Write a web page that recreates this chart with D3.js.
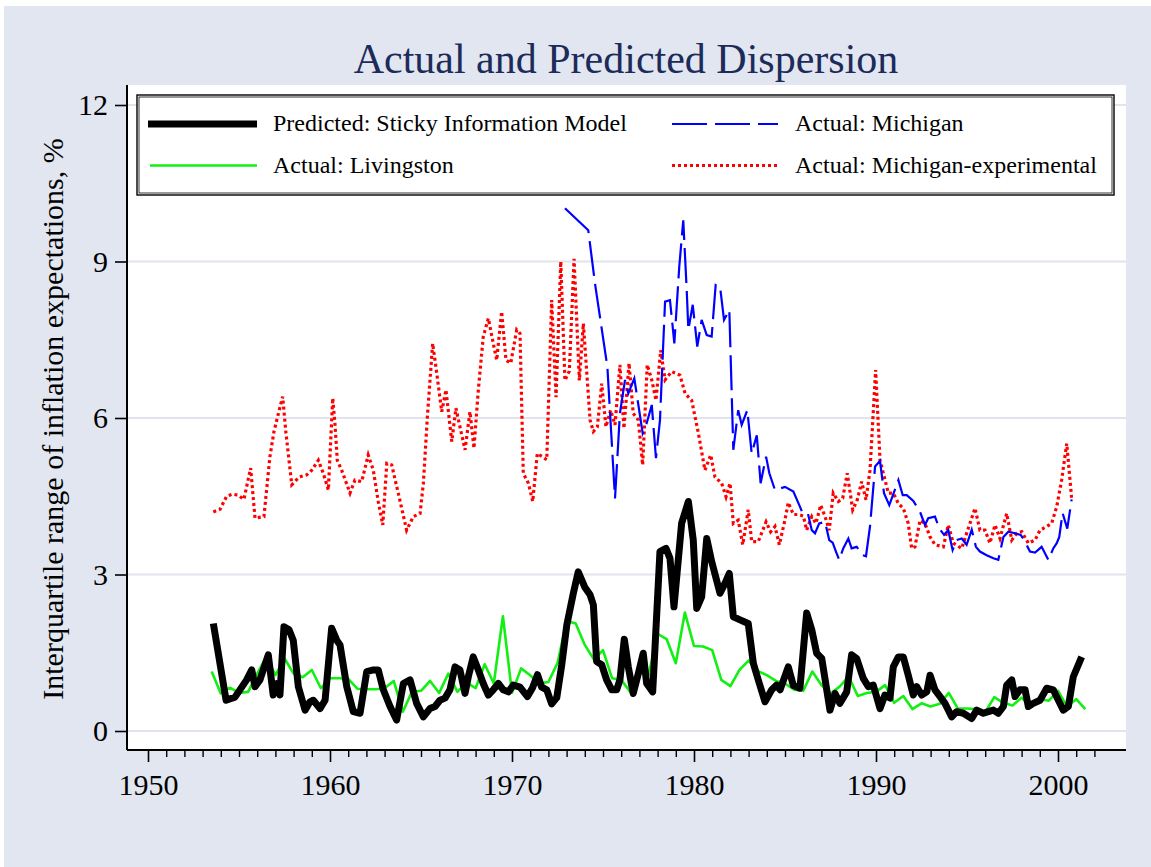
<!DOCTYPE html>
<html><head><meta charset="utf-8">
<script src="https://cdn.jsdelivr.net/npm/d3@7/dist/d3.min.js"></script>
<style>html,body{margin:0;padding:0;background:#fff;}svg{display:block;}</style>
</head><body>
<script>
const titleText = "Actual and Predicted Dispersion";
const yAxisTitle = "Interquartile range of inflation expectations, %";
const xMajorTicks = [1950, 1960, 1970, 1980, 1990, 2000];
const yTicks = [0, 3, 6, 9, 12];
const legendLabels = ["Predicted: Sticky Information Model", "Actual: Michigan", "Actual: Livingston", "Actual: Michigan-experimental"];

// Predicted: Sticky Information Model  [year, value]
const predicted = [
[1953.59,2.06],[1954.29,0.59],[1954.78,0.65],[1955.42,0.98],[1955.70,1.17],[1955.88,0.85],[1956.15,0.98],[1956.61,1.46],[1956.88,0.69],[1957.07,0.91],[1957.25,0.69],[1957.47,2.00],[1957.75,1.94],[1957.98,1.74],[1958.26,0.85],[1958.63,0.40],[1958.90,0.56],[1959.08,0.59],[1959.45,0.43],[1959.73,0.59],
[1960.09,1.97],[1960.37,1.74],[1960.55,1.65],[1960.92,0.85],[1961.28,0.37],[1961.65,0.34],[1962.02,1.14],[1962.38,1.17],[1962.65,1.17],[1962.93,0.79],[1963.30,0.47],[1963.66,0.21],[1964.03,0.91],[1964.40,0.98],[1964.76,0.53],[1965.13,0.27],[1965.49,0.43],[1965.77,0.47],[1966.04,0.59],[1966.32,0.63],[1966.59,0.79],[1966.87,1.23],[1967.14,1.17],[1967.42,0.72],[1967.60,1.04],[1967.87,1.42],[1968.15,1.17],[1968.42,0.91],[1968.70,0.69],[1968.97,0.79],[1969.25,0.91],[1969.52,0.79],[1969.80,0.75],
[1970.07,0.88],[1970.44,0.84],[1970.85,0.66],[1971.13,0.83],[1971.40,1.08],[1971.63,0.84],[1971.91,0.79],[1972.18,0.52],[1972.46,0.64],[1972.73,1.26],[1973.01,2.03],[1973.37,2.64],[1973.64,3.05],[1974.01,2.75],[1974.29,2.61],[1974.47,2.42],[1974.65,1.33],[1974.93,1.27],[1975.20,0.98],[1975.48,0.79],[1975.75,0.79],[1975.93,0.98],[1976.17,1.76],[1976.39,1.23],[1976.66,0.72],[1976.94,1.10],[1977.21,1.49],[1977.40,0.91],[1977.73,0.75],[1977.86,1.62],[1978.13,3.44],[1978.46,3.50],[1978.68,3.31],[1978.90,2.38],[1979.32,3.98],[1979.69,4.40],[1979.96,3.66],
[1980.15,2.35],[1980.42,2.57],[1980.70,3.69],[1980.97,3.25],[1981.43,2.64],[1981.70,2.83],[1981.94,3.02],[1982.16,2.19],[1982.53,2.13],[1982.98,2.06],[1983.26,1.30],[1983.53,0.98],[1983.90,0.56],[1984.27,0.79],[1984.54,0.88],[1984.73,0.79],[1985.18,1.23],[1985.46,0.87],[1985.82,0.82],[1986.19,2.26],[1986.47,1.94],[1986.74,1.49],[1987.02,1.39],[1987.47,0.40],[1987.75,0.72],[1988.02,0.53],[1988.39,0.75],[1988.66,1.46],[1988.94,1.39],[1989.30,1.01],[1989.58,0.85],[1989.85,0.88],
[1990.22,0.43],[1990.49,0.69],[1990.77,0.63],[1990.95,1.23],[1991.23,1.42],[1991.50,1.42],[1991.77,1.07],[1992.05,0.69],[1992.24,0.85],[1992.51,0.69],[1992.79,0.75],[1992.97,1.07],[1993.24,0.79],[1993.52,0.66],[1993.79,0.53],[1994.16,0.27],[1994.43,0.37],[1994.80,0.34],[1995.26,0.24],[1995.53,0.40],[1995.90,0.34],[1996.17,0.37],[1996.45,0.40],[1996.72,0.34],[1997.00,0.47],[1997.18,0.88],[1997.46,0.98],[1997.64,0.66],[1997.91,0.79],[1998.19,0.79],[1998.37,0.47],[1998.64,0.53],[1999.01,0.59],[1999.38,0.82],[1999.74,0.79],[2000.02,0.59],[2000.29,0.40],[2000.57,0.47],[2000.84,1.04],[2001.30,1.42]
];

// Actual: Livingston (semiannual)
const livingstonYears = [1953.5,1954,1954.5,1955,1955.5,1956,1956.5,1957,1957.5,1958,1958.5,1959,1959.5,1960,1960.5,1961,1961.5,1962,1962.5,1963,1963.5,1964,1964.5,1965,1965.5,1966,1966.5,1967,1967.5,1968,1968.5,1969,1969.5,1970,1970.5,1971,1971.5,1972,1972.5,1973,1973.5,1974,1974.5,1975,1975.5,1976,1976.5,1977,1977.5,1978,1978.5,1979,1979.5,1980,1980.5,1981,1981.5,1982,1982.5,1983,1983.5,1984,1984.5,1985,1985.5,1986,1986.5,1987,1987.5,1988,1988.5,1989,1989.5,1990,1990.5,1991,1991.5,1992,1992.5,1993,1993.5,1994,1994.5,1995,1995.5,1996,1996.5,1997,1997.5,1998,1998.5,1999,1999.5,2000,2000.5,2001,2001.5];
const livingstonValues = [1.14,0.72,0.83,0.73,0.75,1.10,1.42,1.07,1.39,1.10,1.03,1.17,0.82,1.01,1.01,1.00,0.81,0.80,0.80,0.82,0.96,0.37,0.75,0.77,0.96,0.73,1.10,0.75,0.93,0.82,1.28,0.91,2.20,0.73,1.20,1.07,0.91,0.94,1.30,2.11,2.06,1.65,1.37,1.55,1.01,0.98,0.75,1.12,1.07,1.86,1.76,1.30,2.27,1.63,1.62,1.55,0.98,0.86,1.17,1.35,1.15,1.07,0.96,0.91,0.79,0.77,1.14,0.88,0.72,0.85,1.04,0.67,0.73,0.75,0.88,0.54,0.67,0.42,0.53,0.47,0.52,0.73,0.43,0.43,0.42,0.36,0.65,0.54,0.49,0.64,0.47,0.61,0.58,0.77,0.47,0.61,0.42];

// Actual: Michigan
const michigan = [
[1972.91,10.02],[1974.19,9.60],[1974.56,8.58],[1975.24,6.98],[1975.66,4.46],[1975.93,6.09],[1976.21,6.73],[1976.39,6.47],[1976.72,6.76],[1977.18,5.71],[1977.40,5.90],[1977.68,6.25],[1977.91,5.23],[1978.13,5.96],[1978.41,8.23],[1978.68,8.26],[1978.92,7.43],[1979.19,8.90],[1979.41,9.79],[1979.60,8.45],[1979.69,7.69],[1979.93,8.17],
[1980.18,7.37],[1980.42,7.88],[1980.70,7.59],[1980.97,7.56],[1981.19,8.55],[1981.43,8.52],[1981.65,7.88],[1981.94,8.07],[1982.16,5.39],[1982.43,6.15],[1982.62,5.87],[1982.93,6.15],[1983.17,5.32],[1983.45,5.67],[1983.66,4.75],[1983.96,5.26],[1984.14,4.94],[1984.45,4.62],[1984.73,4.65],[1985.00,4.68],[1985.46,4.59],[1985.82,4.30],[1986.01,4.14],[1986.28,4.14],[1986.47,3.85],[1986.65,3.79],[1986.88,3.98],[1987.20,4.01],[1987.43,3.66],[1987.62,3.61],[1987.80,3.44],[1987.98,3.28],[1988.20,3.50],[1988.48,3.69],[1988.66,3.50],[1988.94,3.53],[1989.27,3.37],[1989.45,3.35],[1989.67,3.92],[1989.95,5.07],
[1990.22,5.18],[1990.44,4.56],[1990.73,4.33],[1991.23,4.81],[1991.47,4.52],[1991.69,4.52],[1992.05,4.41],[1992.42,4.20],[1992.69,3.95],[1992.87,4.08],[1993.24,4.11],[1993.48,3.88],[1993.74,3.76],[1993.97,3.85],[1994.21,3.47],[1994.43,3.66],[1994.71,3.69],[1994.98,3.57],[1995.26,3.86],[1995.49,3.53],[1995.71,3.44],[1996.08,3.37],[1996.45,3.31],[1996.72,3.28],[1997.00,3.72],[1997.27,3.82],[1997.64,3.79],[1997.95,3.76],[1998.19,3.63],[1998.46,3.44],[1998.74,3.42],[1999.10,3.53],[1999.47,3.28],[1999.74,3.50],[1999.93,3.60],[2000.07,3.72],[2000.25,4.18],[2000.51,3.88],[2000.75,4.44]
];

// Actual: Michigan-experimental
const michiganExp = [
[1953.59,4.20],[1953.96,4.25],[1954.32,4.50],[1954.65,4.54],[1954.96,4.52],[1955.27,4.44],[1955.46,4.75],[1955.64,5.04],[1955.88,4.08],[1956.37,4.11],[1956.70,5.26],[1956.92,5.74],[1957.21,6.15],[1957.40,6.41],[1957.58,5.71],[1957.90,4.72],[1958.31,4.87],[1958.72,4.91],[1959.00,5.00],[1959.36,5.19],[1959.63,4.94],[1959.91,4.62],
[1960.15,6.38],[1960.27,5.90],[1960.40,5.19],[1960.64,5.00],[1961.10,4.56],[1961.37,4.81],[1961.74,4.78],[1962.10,5.29],[1962.38,5.00],[1962.65,4.40],[1962.90,3.95],[1963.12,5.13],[1963.39,5.10],[1963.75,4.56],[1964.21,3.85],[1964.58,4.11],[1964.95,4.17],[1965.13,4.75],[1965.35,6.02],[1965.64,7.43],[1965.82,6.98],[1966.14,6.12],[1966.37,6.54],[1966.69,5.55],[1966.92,6.19],[1967.14,5.83],[1967.42,5.39],[1967.69,6.12],[1967.91,5.42],[1968.15,6.54],[1968.42,7.56],[1968.70,7.91],[1968.97,7.43],[1969.16,7.11],[1969.43,8.04],[1969.67,7.11],[1969.93,7.05],
[1970.26,7.69],[1970.44,7.62],[1970.62,4.94],[1970.90,4.75],[1971.14,4.40],[1971.39,5.32],[1971.91,5.20],[1972.18,8.26],[1972.42,6.40],[1972.68,9.00],[1972.91,6.72],[1973.15,6.90],[1973.41,9.05],[1973.70,6.72],[1973.92,7.81],[1974.29,5.96],[1974.47,5.74],[1974.69,5.83],[1974.93,6.66],[1975.16,5.83],[1975.42,6.15],[1975.66,5.87],[1975.93,7.02],[1976.15,5.80],[1976.43,7.05],[1976.66,6.09],[1976.94,5.96],[1977.18,5.10],[1977.43,7.02],[1977.68,6.73],[1977.91,6.34],[1978.17,7.30],[1978.41,6.73],[1978.77,6.89],[1979.23,6.82],[1979.51,6.47],[1979.87,6.34],
[1980.24,5.71],[1980.60,5.00],[1980.92,5.29],[1981.15,4.87],[1981.52,4.75],[1981.76,4.49],[1981.98,4.75],[1982.16,3.98],[1982.43,4.04],[1982.68,3.57],[1982.98,4.24],[1983.17,3.63],[1983.53,3.63],[1983.96,4.01],[1984.21,3.82],[1984.45,3.92],[1984.69,3.57],[1985.00,4.05],[1985.18,4.38],[1985.46,4.15],[1985.73,4.15],[1986.01,4.12],[1986.19,3.85],[1986.47,4.11],[1986.70,3.98],[1986.96,4.33],[1987.20,4.11],[1987.43,3.85],[1987.65,4.56],[1987.93,4.40],[1988.17,4.46],[1988.42,4.94],[1988.72,4.24],[1988.97,4.43],[1989.21,4.78],[1989.45,4.43],[1989.67,5.00],[1989.98,6.92],
[1990.22,5.19],[1990.68,4.56],[1990.95,4.56],[1991.23,4.36],[1991.50,4.27],[1991.77,3.98],[1991.96,3.50],[1992.14,3.53],[1992.42,4.04],[1992.69,3.98],[1992.97,3.72],[1993.24,3.57],[1993.70,3.53],[1993.97,3.95],[1994.25,3.60],[1994.71,3.50],[1994.98,3.79],[1995.44,4.27],[1995.71,3.85],[1995.99,3.85],[1996.26,3.60],[1996.54,3.95],[1996.81,3.69],[1997.18,4.17],[1997.46,3.66],[1997.73,3.79],[1998.01,3.82],[1998.37,3.60],[1998.74,3.66],[1999.01,3.85],[1999.38,3.92],[1999.65,3.98],[1999.93,4.30],[2000.20,4.81],[2000.48,5.51],[2000.75,4.46]
];

const W = 1151, H = 867;
const FONT = "'Liberation Serif','Times New Roman',Times,serif";
const plot = {left:127, right:1126, top:85, bottom:750};

const svg = d3.select("body").append("svg").attr("width", W).attr("height", H);
svg.append("rect").attr("width", W).attr("height", H).attr("fill", "#fff");
svg.append("rect").attr("x", 4).attr("y", 6).attr("width", W-4).attr("height", H-6).attr("fill", "#e1e6f0");
svg.append("rect").attr("x", plot.left).attr("y", plot.top).attr("width", plot.right-plot.left).attr("height", plot.bottom-plot.top).attr("fill", "#fff");

const x = d3.scaleLinear().domain([1950, 2000]).range([148, 1058]);
const y = d3.scaleLinear().domain([0, 12]).range([731, 105]);

// gridlines
svg.append("g").selectAll("line").data(yTicks).join("line")
  .attr("x1", plot.left).attr("x2", plot.right)
  .attr("y1", d => y(d)).attr("y2", d => y(d))
  .attr("stroke", "#dfe4ee").attr("stroke-width", 2);

const line = d3.line().x(d => x(d[0])).y(d => y(d[1]));
const liv = livingstonYears.map((yr, i) => [yr, livingstonValues[i]]);

svg.append("path").datum(michiganExp).attr("d", line).attr("fill", "none")
  .attr("stroke", "#ff0000").attr("stroke-width", 3.2).attr("stroke-dasharray", "3,3");
svg.append("path").datum(michigan).attr("d", line).attr("fill", "none")
  .attr("stroke", "#0000ff").attr("stroke-width", 2.2).attr("stroke-dasharray", "35,8");
svg.append("path").datum(liv).attr("d", line).attr("fill", "none")
  .attr("stroke", "#12ef12").attr("stroke-width", 2.6).attr("stroke-linejoin", "round");
svg.append("path").datum(predicted).attr("d", line).attr("fill", "none")
  .attr("stroke", "#000").attr("stroke-width", 7).attr("stroke-linejoin", "round").attr("stroke-linecap", "butt");

// axes
const xAxis = d3.axisBottom(x).tickValues(xMajorTicks).tickFormat(d3.format("d")).tickSize(12).tickPadding(12).tickSizeOuter(0);
const gx = svg.append("g").attr("transform", `translate(0,${plot.bottom})`).call(xAxis);
gx.select(".domain").remove();
gx.selectAll(".tick line").attr("stroke", "#000").attr("stroke-width", 1.6);
gx.selectAll(".tick text").attr("font-family", FONT).attr("font-size", 30).attr("fill", "#000");
const minorYears = d3.range(1951, 2003).filter(v => !xMajorTicks.includes(v));
const xMinor = d3.axisBottom(x).tickValues(minorYears).tickFormat("").tickSize(7).tickSizeOuter(0);
const gxm = svg.append("g").attr("transform", `translate(0,${plot.bottom})`).call(xMinor);
gxm.select(".domain").remove();
gxm.selectAll(".tick line").attr("stroke", "#000").attr("stroke-width", 1.4);
svg.append("line").attr("x1", plot.left).attr("x2", plot.right).attr("y1", plot.bottom).attr("y2", plot.bottom)
  .attr("stroke", "#000").attr("stroke-width", 2);

const yAxis = d3.axisLeft(y).tickValues(yTicks).tickSize(12).tickPadding(7).tickSizeOuter(0);
const gy = svg.append("g").attr("transform", `translate(${plot.left},0)`).call(yAxis);
gy.select(".domain").remove();
gy.selectAll(".tick line").attr("stroke", "#000").attr("stroke-width", 1.6);
gy.selectAll(".tick text").attr("font-family", FONT).attr("font-size", 30).attr("fill", "#000");
svg.append("line").attr("x1", plot.left).attr("x2", plot.left).attr("y1", plot.top).attr("y2", plot.bottom)
  .attr("stroke", "#000").attr("stroke-width", 2);

// titles
svg.append("text").attr("x", 626).attr("y", 73).attr("text-anchor", "middle")
  .attr("font-family", FONT).attr("font-size", 42).attr("fill", "#1c2b5a").text(titleText);
svg.append("text").attr("transform", "translate(63,419) rotate(-90)").attr("text-anchor", "middle")
  .attr("font-family", FONT).attr("font-size", 30).attr("fill", "#000").text(yAxisTitle);

// legend
const lg = svg.append("g");
lg.append("rect").attr("x", 137).attr("y", 95).attr("width", 977).attr("height", 100)
  .attr("fill", "#fff").attr("stroke", "#000").attr("stroke-width", 1.4);
lg.append("rect").attr("x", 139).attr("y", 97).attr("width", 973).attr("height", 96)
  .attr("fill", "none").attr("stroke", "#000").attr("stroke-width", 0.8);
const legendItems = [
  {label: legendLabels[0], x0: 148, x1: 257, yy: 124, stroke: "#000", w: 7, dash: null},
  {label: legendLabels[1], x0: 672, x1: 778, yy: 124, stroke: "#0000ff", w: 2.2, dash: "35,8"},
  {label: legendLabels[2], x0: 150, x1: 257, yy: 165.5, stroke: "#12ef12", w: 2.6, dash: null},
  {label: legendLabels[3], x0: 672, x1: 778, yy: 165.5, stroke: "#ff0000", w: 3.2, dash: "3,3"}
];
legendItems.forEach(it => {
  lg.append("line").attr("x1", it.x0).attr("x2", it.x1).attr("y1", it.yy).attr("y2", it.yy)
    .attr("stroke", it.stroke).attr("stroke-width", it.w).attr("stroke-dasharray", it.dash);
  lg.append("text").attr("x", it.x0 < 400 ? 273 : 795).attr("y", it.yy + 7)
    .attr("font-family", FONT).attr("font-size", 24).attr("fill", "#000").text(it.label);
});
</script>
</body></html>
